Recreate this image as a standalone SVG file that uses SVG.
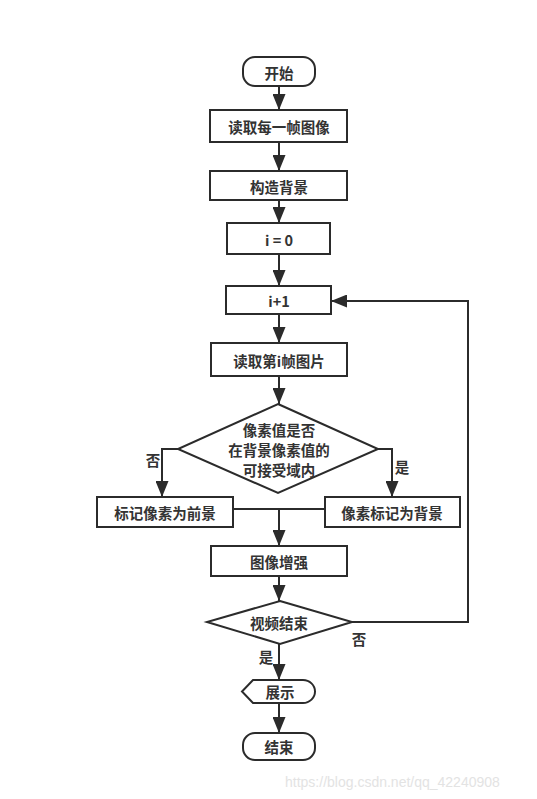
<svg xmlns="http://www.w3.org/2000/svg" width="537" height="799" viewBox="0 0 537 799">
<defs>
<marker id="arr" viewBox="0 0 16 13" refX="16" refY="6.5" markerWidth="16" markerHeight="13" markerUnits="userSpaceOnUse" orient="auto">
<path d="M0,0 L16,6.5 L0,13 z" fill="#2b2b2b"/>
</marker>
<style>
.n{fill:#fff;stroke:#2b2b2b;stroke-width:2}
.t{font-family:"Noto Sans CJK SC","Liberation Sans",sans-serif;font-size:14.5px;font-weight:bold;fill:#333;text-anchor:middle;dominant-baseline:central}
.c{fill:none;stroke:#2b2b2b;stroke-width:2}
.w{font-family:"Liberation Sans",sans-serif;font-size:14px;fill:#e3e3e3}
</style>
</defs>
<rect width="537" height="799" fill="#fff"/>
<g id="connectors">
<path class="c" d="M279,86 V110" marker-end="url(#arr)"/>
<path class="c" d="M279,142 V171" marker-end="url(#arr)"/>
<path class="c" d="M279,200 V223" marker-end="url(#arr)"/>
<path class="c" d="M279,254 V286" marker-end="url(#arr)"/>
<path class="c" d="M279,314 V343" marker-end="url(#arr)"/>
<path class="c" d="M279,376 V404" marker-end="url(#arr)"/>
<path class="c" d="M178,449 H162 V497" marker-end="url(#arr)"/>
<path class="c" d="M378,449 H392 V497" marker-end="url(#arr)"/>
<path class="c" d="M233,509 H325"/>
<path class="c" d="M279,509 V546" marker-end="url(#arr)"/>
<path class="c" d="M279,576 V601" marker-end="url(#arr)"/>
<path class="c" d="M352,622 H468 V301 H331" marker-end="url(#arr)"/>
<path class="c" d="M279,644 V680" marker-end="url(#arr)"/>
<path class="c" d="M279,703 V733" marker-end="url(#arr)"/>
<text class="t" x="153" y="459">否</text>
<text class="t" x="402" y="466">是</text>
<text class="t" x="359" y="638">否</text>
<text class="t" x="266" y="656">是</text>
</g>
<g id="start">
<rect class="n" x="243" y="57" width="72" height="29" rx="12"/>
<text class="t" x="279" y="72">开始</text>
</g>
<g id="read-frame">
<rect class="n" x="210" y="110" width="137" height="32"/>
<text class="t" x="279" y="126">读取每一帧图像</text>
</g>
<g id="build-bg">
<rect class="n" x="210" y="171" width="137" height="29"/>
<text class="t" x="279" y="186">构造背景</text>
</g>
<g id="i0">
<rect class="n" x="227" y="223" width="103" height="31"/>
<text class="t" x="279" y="239">i = 0</text>
</g>
<g id="i1">
<rect class="n" x="226" y="286" width="105" height="28"/>
<text class="t" x="279" y="300">i+1</text>
</g>
<g id="read-i">
<rect class="n" x="211" y="343" width="136" height="33"/>
<text class="t" x="279" y="360">读取第i帧图片</text>
</g>
<g id="decision">
<polygon class="n" points="278,404 378,449 278,493 178,449"/>
<text class="t" x="279" y="429">像素值是否</text>
<text class="t" x="279" y="449">在背景像素值的</text>
<text class="t" x="279" y="469">可接受域内</text>
</g>
<g id="fg">
<rect class="n" x="97" y="497" width="136" height="30"/>
<text class="t" x="165" y="512">标记像素为前景</text>
</g>
<g id="bg">
<rect class="n" x="325" y="497" width="135" height="30"/>
<text class="t" x="392" y="512">像素标记为背景</text>
</g>
<g id="enhance">
<rect class="n" x="211" y="546" width="136" height="30"/>
<text class="t" x="279" y="561">图像增强</text>
</g>
<g id="video-end">
<polygon class="n" points="280,601 352,622 280,644 207,622"/>
<text class="t" x="279" y="622">视频结束</text>
</g>
<g id="display">
<path class="n" d="M253,680 H303 A12,11.5 0 0 1 303,703 H253 L242,691.5 Z"/>
<text class="t" x="280" y="691">展示</text>
</g>
<g id="end">
<rect class="n" x="243" y="733" width="72" height="27" rx="12"/>
<text class="t" x="279" y="746">结束</text>
</g>
<text class="w" x="285" y="787">https://blog.csdn.net/qq_42240908</text>
</svg>
